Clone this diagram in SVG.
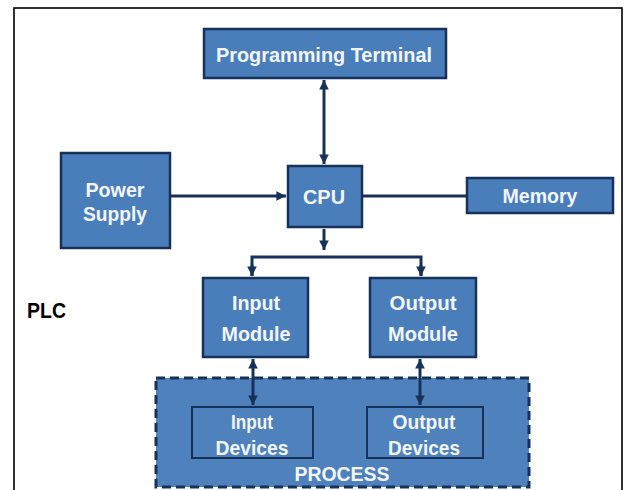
<svg xmlns="http://www.w3.org/2000/svg" width="624" height="490" viewBox="0 0 624 490">
<defs>
<style>
.box{fill:#4a7ebb;stroke:#16325a;stroke-width:2.5}
.inner{fill:none;stroke:#16325a;stroke-width:2}
.t{font-family:"Liberation Sans",Arial,sans-serif;font-weight:bold;font-size:21px;fill:#f2f6fb;text-anchor:middle}
.c{stroke:#16325a;stroke-width:3;fill:none}
.frame{fill:#fff;stroke:#000;stroke-width:1.6}
</style>
<marker id="ah" viewBox="0 0 10 10" refX="10" refY="5" markerWidth="3.2" markerHeight="3.2" orient="auto-start-reverse" markerUnits="strokeWidth">
<path d="M0,0 L10,5 L0,10 z" fill="#16325a"/>
</marker>
</defs>
<rect x="0" y="0" width="624" height="490" fill="#fff"/>
<rect class="frame" x="14" y="8" width="608" height="500"/>

<g id="programming-terminal">
<rect class="box" x="204" y="29" width="242" height="49"/>
<text class="t" x="324" y="62" textLength="216" lengthAdjust="spacingAndGlyphs">Programming Terminal</text>
</g>

<g id="power-supply">
<rect class="box" x="61" y="153" width="109" height="95"/>
<text class="t" x="115" y="197" textLength="59" lengthAdjust="spacingAndGlyphs">Power</text>
<text class="t" x="115" y="221" textLength="64" lengthAdjust="spacingAndGlyphs">Supply</text>
</g>

<g id="cpu">
<rect class="box" x="288" y="166" width="74" height="61"/>
<text class="t" x="324" y="204" textLength="42" lengthAdjust="spacingAndGlyphs">CPU</text>
</g>

<g id="memory">
<rect class="box" x="467" y="178" width="146" height="35"/>
<text class="t" x="540" y="203" textLength="75" lengthAdjust="spacingAndGlyphs">Memory</text>
</g>

<g id="plc-label">
<text x="27" y="318" font-family="Liberation Sans,Arial,sans-serif" font-weight="bold" font-size="22" fill="#000" textLength="39" lengthAdjust="spacingAndGlyphs">PLC</text>
</g>

<g id="input-module">
<rect class="box" x="203" y="278" width="105" height="79"/>
<text class="t" x="256" y="310" textLength="48" lengthAdjust="spacingAndGlyphs">Input</text>
<text class="t" x="256" y="341" textLength="69" lengthAdjust="spacingAndGlyphs">Module</text>
</g>

<g id="output-module">
<rect class="box" x="370" y="278" width="106" height="79"/>
<text class="t" x="423" y="310" textLength="67" lengthAdjust="spacingAndGlyphs">Output</text>
<text class="t" x="423" y="341" textLength="70" lengthAdjust="spacingAndGlyphs">Module</text>
</g>

<g id="process">
<rect x="156" y="378" width="373" height="109" fill="#4f81bd" stroke="#16325a" stroke-width="3" stroke-dasharray="9,5"/>
<text class="t" x="342" y="481" textLength="95" lengthAdjust="spacingAndGlyphs">PROCESS</text>
</g>

<g id="input-devices">
<rect class="inner" x="192" y="407" width="121" height="51"/>
<text class="t" x="252" y="429" textLength="42" lengthAdjust="spacingAndGlyphs">Input</text>
<text class="t" x="252" y="455" textLength="73" lengthAdjust="spacingAndGlyphs">Devices</text>
</g>

<g id="output-devices">
<rect class="inner" x="367" y="407" width="116" height="51"/>
<text class="t" x="424" y="429" textLength="63" lengthAdjust="spacingAndGlyphs">Output</text>
<text class="t" x="424" y="455" textLength="72" lengthAdjust="spacingAndGlyphs">Devices</text>
</g>

<g id="connectors">
<line class="c" x1="324" y1="80" x2="324" y2="164" marker-start="url(#ah)" marker-end="url(#ah)"/>
<line class="c" x1="171" y1="196" x2="286" y2="196" marker-end="url(#ah)"/>
<line class="c" x1="363" y1="196" x2="466" y2="196"/>
<line class="c" x1="324" y1="229" x2="324" y2="250" marker-end="url(#ah)"/>
<polyline class="c" points="252,276 252,257 421,257 421,276"/>
<line class="c" x1="252" y1="265" x2="252" y2="276" marker-end="url(#ah)"/>
<line class="c" x1="421" y1="265" x2="421" y2="276" marker-end="url(#ah)"/>
<line class="c" x1="253" y1="359" x2="253" y2="405" marker-start="url(#ah)" marker-end="url(#ah)"/>
<line class="c" x1="420" y1="359" x2="420" y2="405" marker-start="url(#ah)" marker-end="url(#ah)"/>
</g>
</svg>
